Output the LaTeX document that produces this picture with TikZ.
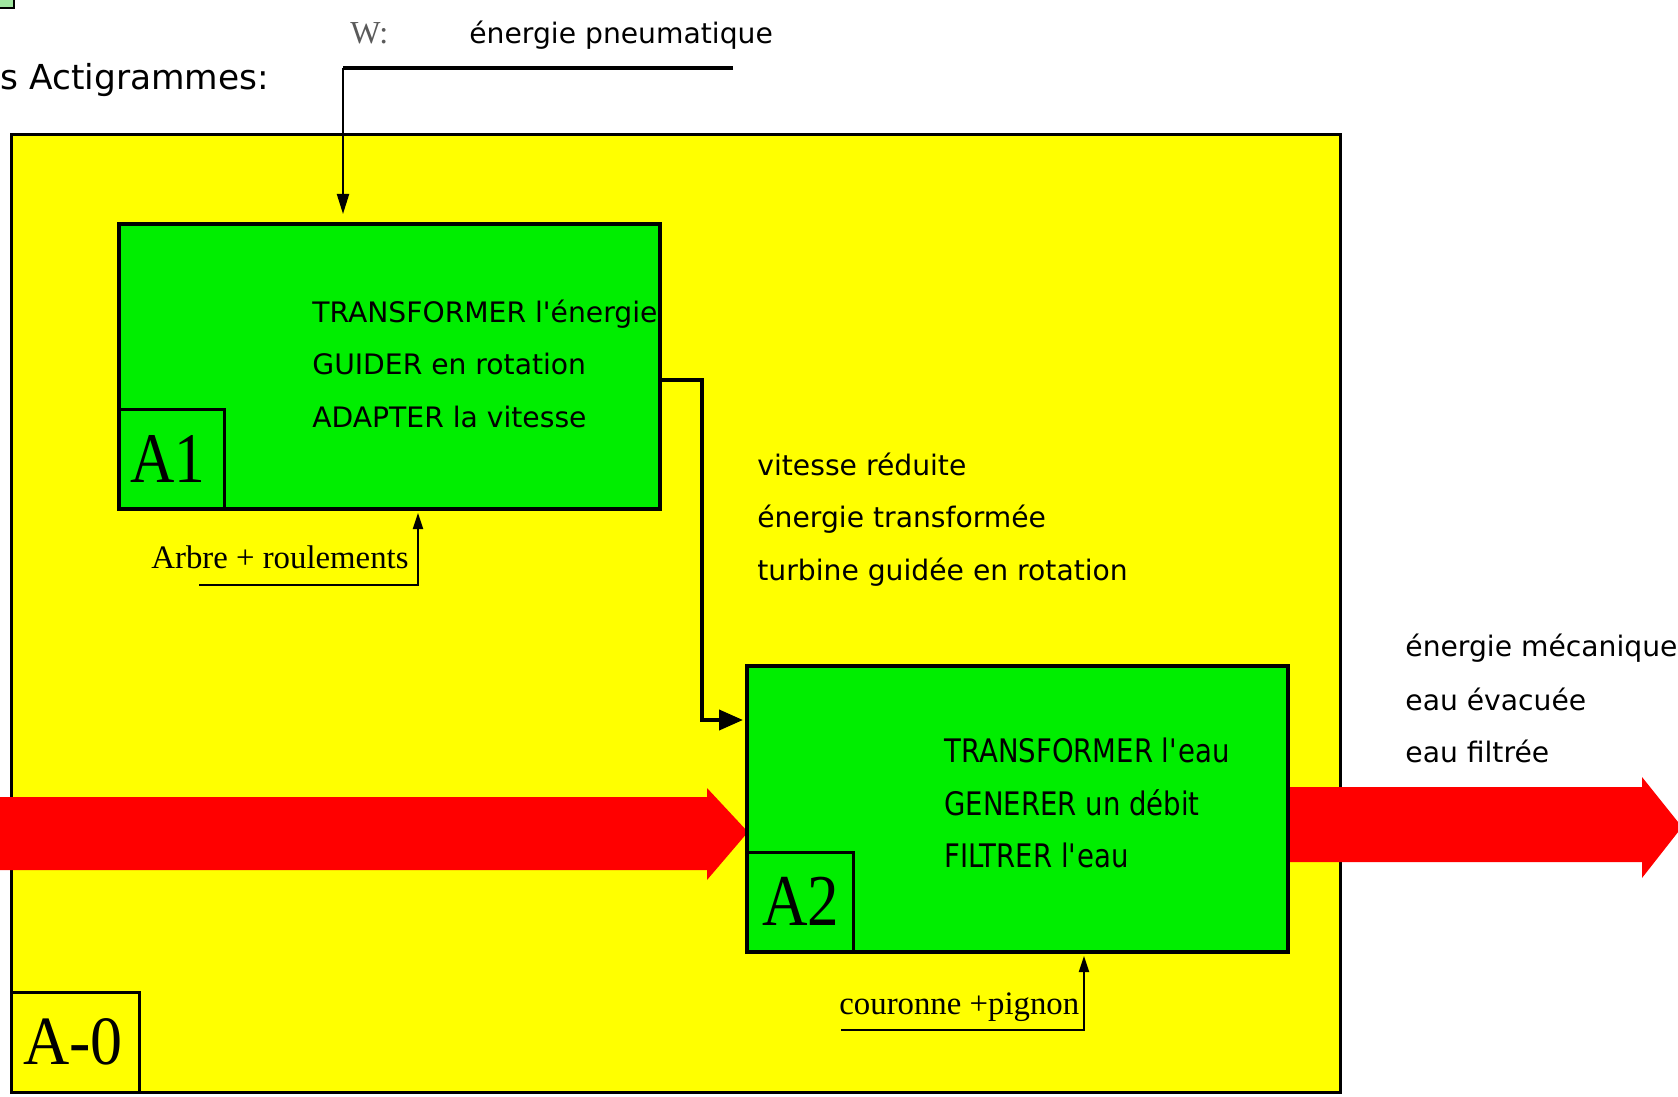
\documentclass[tikz,border=0pt]{standalone}
\usepackage{fontspec}
\setmainfont{DejaVu Sans}
\newfontfamily\serif{Liberation Serif}
\newfontfamily\cond[FakeStretch=0.85]{DejaVu Sans}
\usetikzlibrary{arrows.meta,fit}
\definecolor{bgreen}{RGB}{0,238,0}
\definecolor{byellow}{RGB}{255,255,0}
\definecolor{bred}{RGB}{255,0,0}
\definecolor{pale}{RGB}{160,230,160}
\definecolor{wgray}{RGB}{90,90,90}
\begin{document}
\begin{tikzpicture}[x=0.5pt,y=-0.5pt,
  fbox/.style={draw=black,line width=2pt,fill=bgreen,inner sep=0pt},
  lbox/.style={draw=black,line width=1.5pt,inner sep=0pt},
  bigtxt/.style={font=\serif\fontsize{30.7}{31}\selectfont,inner sep=0pt,anchor=base west},
  txt/.style={font=\fontsize{14.1}{14}\selectfont,inner sep=0pt,anchor=base west},
  ctxt/.style={font=\cond\fontsize{16.2}{16}\selectfont,inner sep=0pt,anchor=base west},
  stxt/.style={font=\serif\fontsize{16.4}{17}\selectfont,inner sep=0pt,anchor=base west},
  flow/.style={line width=2pt,-{Triangle[length=12pt,width=10pt]}},
  mech/.style={line width=1pt,-{Triangle[length=8pt,width=5pt]}},
  redarrow/.style={fill=bred}]
\useasboundingbox (0,0) rectangle (1678,1097);
\fill[white] (0,0) rectangle (1678,1097);
% tiny corner square
\node[fit={(-4,-4) (14,8)},draw=black,line width=1pt,fill=pale,inner sep=0pt] (corner) {};
% heading
\node[font=\fontsize{17.2}{17}\selectfont,inner sep=0pt,anchor=base west] (title) at (0,90) {s Actigrammes:};
\node[font=\serif\fontsize{16}{16}\selectfont,text=wgray,inner sep=0pt,anchor=base west] (wlbl) at (350,44) {W:};
\node[txt] (wtxt) at (469,44) {énergie pneumatique};
% outer A-0 box
\node[fit={(11,135) (1340,1092)},draw=black,line width=1.5pt,fill=byellow,inner sep=0pt] (outer) {};
\node[fit={(11,992) (139,1092)},lbox] (A0lbox) {};
\node[bigtxt,font=\serif\fontsize{32}{32}\selectfont] (A0lbl) at (23,1064) {\scalebox{1}[1.08]{A-0}};
% red input arrow
\coordinate (redin) at (0,797);
\fill[redarrow] (redin) -- (707,797) -- (707,788) -- (748,832) -- (707,880) -- (707,870) -- (0,870) -- cycle;
% red output arrow
\fill[redarrow] (1288,787) -- (1642,787) -- (1642,777) -- (1682,827) -- (1642,878) -- (1642,862) -- (1288,862) -- cycle;
% A1 box
\node[fit={(119,224) (660,509)},fbox] (A1) {};
\node[fit={(119,409) (224,509)},lbox] (A1lbox) {};
\node[bigtxt] (A1lbl) at (130,482) {\scalebox{1}[1.16]{A1}};
\node[txt] (a1t1) at (312,322) {TRANSFORMER l\textquotesingle énergie};
\node[txt] (a1t2) at (312,374.5) {GUIDER en rotation};
\node[txt] (a1t3) at (312,427) {ADAPTER la vitesse};
% A2 box
\node[fit={(747,666) (1288,952)},fbox] (A2) {};
\node[fit={(747,852) (853,952)},lbox] (A2lbox) {};
\node[bigtxt,font=\serif\fontsize{31.5}{32}\selectfont] (A2lbl) at (762,925) {\scalebox{1}[1.16]{A2}};
\node[ctxt] (a2t1) at (944,762) {TRANSFORMER l\textquotesingle eau};
\node[ctxt] (a2t2) at (944,815) {GENERER un débit};
\node[ctxt] (a2t3) at (944,867) {FILTRER l\textquotesingle eau};
% middle texts
\node[txt] (m1) at (757,475) {vitesse réduite};
\node[txt] (m2) at (757,527.5) {énergie transformée};
\node[txt] (m3) at (757,580) {turbine guidée en rotation};
% right texts
\node[txt] (r1) at (1405,656) {énergie mécanique};
\node[txt] (r2) at (1405,710) {eau évacuée};
\node[txt] (r3) at (1405,762) {eau filtrée};
% control input W
\coordinate (wend) at (733,68);
\coordinate (wcorner) at (343,68);
\draw[line width=2pt] (wend) -- (wcorner);
\draw[line width=1pt,-{Triangle[length=10pt,width=6pt]},shorten >=4pt] (wcorner) -- (wcorner |- A1.north);
% A1 -> A2
\draw[flow,shorten >=1pt] (A1.east |- 0,380) -- (702,380) |- (A2.west |- 0,720);
% mechanisms
\node[stxt] (mec1) at (151,568) {Arbre + roulements};
\coordinate (mec1s) at (199,585);
\coordinate (mec1c) at (418,585);
\draw[mech,shorten >=1pt] (mec1s) -- (mec1c) -- (mec1c |- A1.south);
\node[stxt] (mec2) at (839,1014) {couronne +pignon};
\coordinate (mec2s) at (841,1030);
\coordinate (mec2c) at (1084,1030);
\draw[mech,shorten >=1pt] (mec2s) -- (mec2c) -- (mec2c |- A2.south);
\end{tikzpicture}
\end{document}
